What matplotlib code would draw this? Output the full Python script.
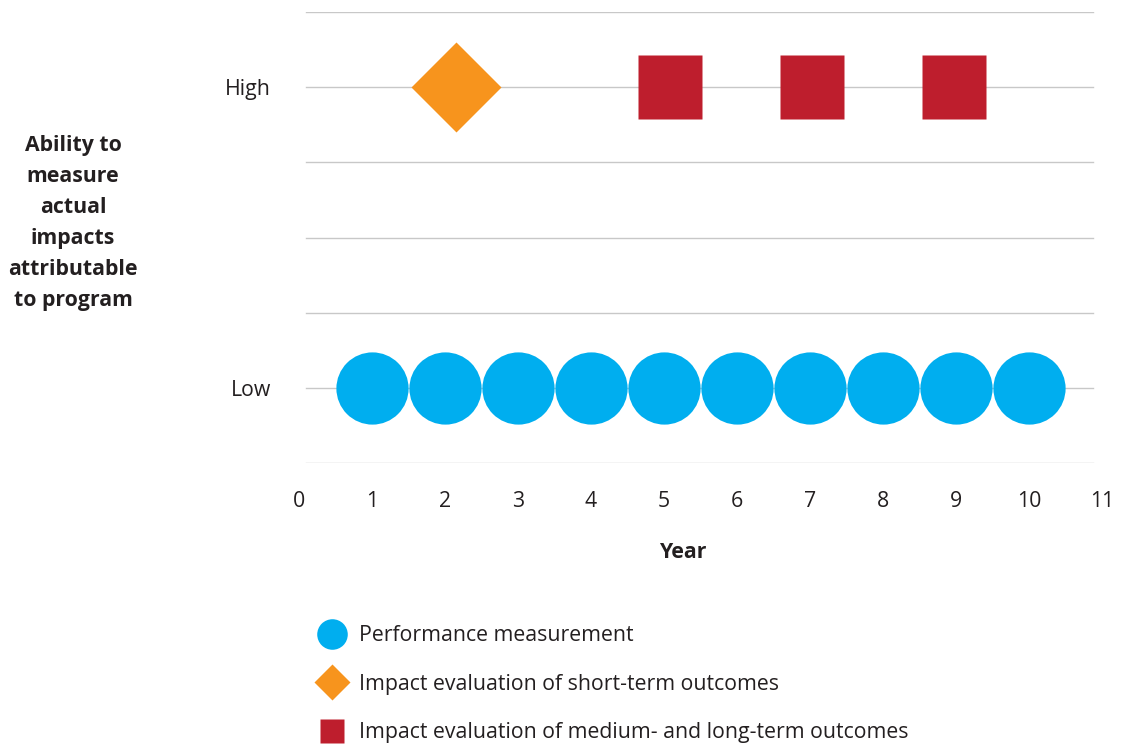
"""Measurement timeline: ability to measure program impacts by year."""

import matplotlib.pyplot as plt
from matplotlib.lines import Line2D

plt.rcParams["font.family"] = ["Open Sans", "DejaVu Sans"]

# data
perf_years = [1, 2, 3, 4, 5, 6, 7, 8, 9, 10]
perf_level = [1, 1, 1, 1, 1, 1, 1, 1, 1, 1]
short_years = [2.15]
short_level = [5]
medium_years = [5.08, 7.03, 8.97]
medium_level = [5, 5, 5]

x_ticks = list(range(0, 12))
y_ticks = [1, 5]
y_tick_labels = ["Low", "High"]
grid_levels = [0, 1, 2, 3, 4, 5, 6]

legend_labels = [
    "Performance measurement",
    "Impact evaluation of short-term outcomes",
    "Impact evaluation of medium- and long-term outcomes",
]

BLUE = "#00AEEF"
ORANGE = "#F7941D"
RED = "#BE1E2D"
GRID = "#C8C8C8"
TEXT = "#231F20"

fig = plt.figure(figsize=(11.21, 7.44), dpi=100)
ax = fig.add_axes([299 / 1121, 1 - 463 / 744, 803 / 1121, 451 / 744])

for lvl in grid_levels:
    ax.axhline(lvl, xmin=7 / 803, xmax=794 / 803, color=GRID, lw=1.0, zorder=1)

ax.plot(perf_years, perf_level, "o", ms=52, color=BLUE, mec="none", zorder=3)
ax.plot(short_years, short_level, "D", ms=46, color=ORANGE, mec="none", zorder=3)
ax.plot(medium_years, medium_level, "s", ms=45.5, color=RED, mec="none", zorder=3)

ax.set_xlim(0, 11)
ax.set_ylim(0, 6)
ax.set_xticks(x_ticks)
ax.set_yticks(y_ticks)
ax.set_yticklabels(y_tick_labels)
ax.tick_params(axis="both", length=0, labelsize=15.3, colors=TEXT)
ax.tick_params(axis="x", pad=20.5)
ax.tick_params(axis="y", pad=20)
for spine in ax.spines.values():
    spine.set_visible(False)

ax.set_xlabel("Year", fontsize=15.3, fontweight="bold", color=TEXT)
ax.xaxis.set_label_coords((683 - 299) / 803, -(553 - 463) / 451)
ax.xaxis.label.set_va("center")

fig.text(
    73 / 1121,
    1 - 223 / 744,
    "Ability to\nmeasure\nactual\nimpacts\nattributable\nto program",
    ha="center",
    va="center",
    fontsize=15.3,
    fontweight="bold",
    color=TEXT,
    linespacing=1.63,
)

handles = [
    Line2D([], [], ls="none", marker="o", ms=22, color=BLUE, mec="none"),
    Line2D([], [], ls="none", marker="D", ms=18, color=ORANGE, mec="none"),
    Line2D([], [], ls="none", marker="s", ms=17.5, color=RED, mec="none"),
]
fig.legend(
    handles,
    legend_labels,
    loc="upper left",
    bbox_to_anchor=(315 / 1121, 1 - 625 / 744),
    frameon=False,
    fontsize=15.3,
    labelcolor=TEXT,
    handlelength=1.6,
    handletextpad=0.45,
    labelspacing=1.3,
    borderpad=0,
    borderaxespad=0,
    numpoints=1,
)

fig.savefig("out.png", dpi=100)
